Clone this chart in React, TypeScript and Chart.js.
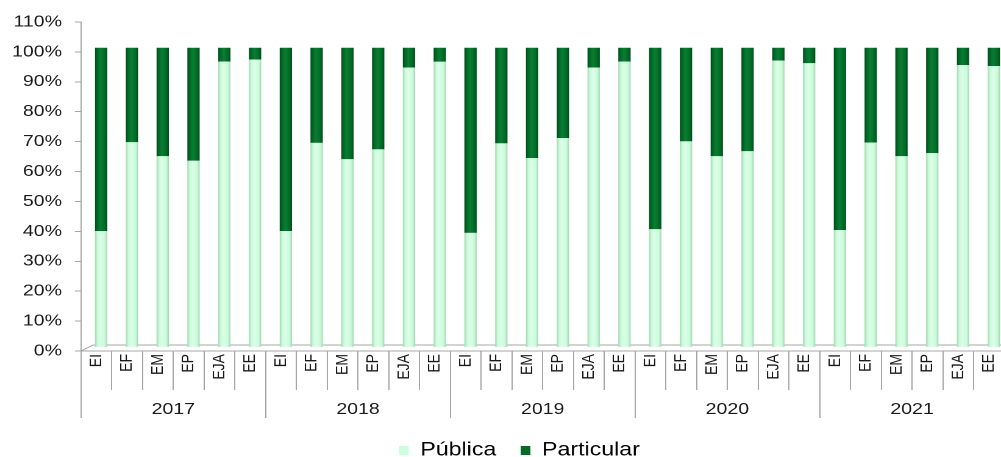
import React, { useEffect, useRef } from "react";
import { Chart, registerables } from "chart.js";

Chart.register(...registerables);

// ---- data ----
const years = ["2017", "2018", "2019", "2020", "2021"];
const levels = ["EI", "EF", "EM", "EP", "EJA", "EE"];
const publica = [
  38.7, 68.4, 63.7, 62.2, 95.4, 96.0,
  38.7, 68.2, 62.7, 66.0, 93.4, 95.3,
  38.1, 68.0, 63.1, 69.8, 93.4, 95.4,
  39.3, 68.7, 63.7, 65.4, 95.7, 94.8,
  39.0, 68.3, 63.7, 64.8, 94.2, 93.9,
];
const particular = [
  61.3, 31.6, 36.3, 37.8, 4.6, 4.0,
  61.3, 31.8, 37.3, 34.0, 6.6, 4.7,
  61.9, 32.0, 36.9, 30.2, 6.6, 4.6,
  60.7, 31.3, 36.3, 34.6, 4.3, 5.2,
  61.0, 31.7, 36.3, 35.2, 5.8, 6.1,
];
const yTicks = [0, 10, 20, 30, 40, 50, 60, 70, 80, 90, 100, 110];
const seriesNames = ["Pública", "Particular"];

const categories = years.flatMap(() => levels);

// ---- layout (inner canvas is stretched horizontally like the reference) ----
const OUT_W = 1001;
const SX = 1001 / 821;
const IN_W = 852;
const IN_H = 457;
const BAR_PCT = 0.4;
const DEPTH_X = 0.156; // 3-D depth shift of the bars, in categories
const DEPTH_Y = 1.4; // 3-D depth shift of the bars, in %
const FONT = "'Liberation Sans', Arial, sans-serif";
const AXIS_GRAY = "#a6a6a6";
const TEXT = "#1a1a1a";

const PUB_SOLID = "#ccffdd";
const PART_SOLID = "#006b24";

function makeFill(edge: string, mid: string, hi: string) {
  return (c: any) => {
    const chart = c.chart;
    const xs = chart.scales && chart.scales.xb;
    if (c.type !== "data" || !xs || !chart.chartArea) return mid;
    const x = xs.getPixelForValue(c.dataIndex);
    const w = (xs.width / categories.length) * BAR_PCT;
    if (!isFinite(x) || !isFinite(w) || w <= 0) return mid;
    const g = chart.ctx.createLinearGradient(x - w / 2, 0, x + w / 2, 0);
    g.addColorStop(0, edge);
    g.addColorStop(0.2, mid);
    g.addColorStop(0.45, hi);
    g.addColorStop(0.8, mid);
    g.addColorStop(1, edge);
    return g;
  };
}

const floorPlugin = {
  id: "floor3d",
  beforeDatasetsDraw(chart: any) {
    const { ctx, chartArea } = chart;
    const y0 = chart.scales.y.getPixelForValue(0);
    ctx.save();
    ctx.strokeStyle = AXIS_GRAY;
    ctx.lineWidth = 1;
    ctx.beginPath();
    ctx.moveTo(chartArea.left, y0);
    ctx.lineTo(chartArea.left + 10, y0 - 6);
    ctx.lineTo(chartArea.right, y0 - 6);
    ctx.stroke();
    ctx.restore();
  },
};

export default function App() {
  const ref = useRef<HTMLCanvasElement | null>(null);

  useEffect(() => {
    if (!ref.current) return;
    Chart.defaults.font.family = FONT;
    const chart = new Chart(ref.current, {
      type: "bar",
      data: {
        labels: categories,
        datasets: [
          {
            label: seriesNames[0],
            data: publica.map((v, i) => ({ x: i, y: v })),
            xAxisID: "xb",
            yAxisID: "yb",
            backgroundColor: makeFill("#a3d6b3", "#c9fbd9", "#dcffe9"),
            borderWidth: 0,
            barPercentage: BAR_PCT,
            categoryPercentage: 1,
            stack: "s",
          },
          {
            label: seriesNames[1],
            data: particular.map((v, i) => ({ x: i, y: v })),
            xAxisID: "xb",
            yAxisID: "yb",
            backgroundColor: makeFill("#004d1a", "#006b26", "#0b7d34"),
            borderWidth: 0,
            barPercentage: BAR_PCT,
            categoryPercentage: 1,
            stack: "s",
          },
        ],
      },
      options: {
        animation: false,
        responsive: true,
        maintainAspectRatio: false,
        devicePixelRatio: 2,
        layout: { padding: { top: 22, left: 0, right: 0, bottom: -13 } },
        plugins: {
          tooltip: { enabled: false },
          legend: {
            position: "bottom",
            labels: {
              font: { family: FONT, size: 19 },
              color: TEXT,
              boxWidth: 8,
              boxHeight: 9,
              padding: 20,
              generateLabels: () => [
                { text: seriesNames[0], fillStyle: PUB_SOLID, strokeStyle: PUB_SOLID, lineWidth: 0, hidden: false, datasetIndex: 0 },
                { text: seriesNames[1], fillStyle: PART_SOLID, strokeStyle: PART_SOLID, lineWidth: 0, hidden: false, datasetIndex: 1 },
              ] as any,
            },
          },
        },
        scales: {
          // hidden scales that carry the bars (shifted for the 3-D depth)
          xb: {
            type: "linear",
            display: false,
            stacked: true,
            offset: false,
            min: -0.5 - DEPTH_X,
            max: categories.length - 0.5 - DEPTH_X,
          },
          yb: {
            type: "linear",
            display: false,
            stacked: true,
            min: yTicks[0] - DEPTH_Y,
            max: yTicks[yTicks.length - 1] - DEPTH_Y,
          },
          x: {
            type: "category",
            position: "bottom",
            offset: true,
            weight: 0,
            grid: {
              display: true,
              drawOnChartArea: false,
              drawTicks: true,
              tickLength: 39,
              color: AXIS_GRAY,
              offset: true,
            },
            border: { display: true, color: AXIS_GRAY, width: 1 },
            ticks: {
              autoSkip: false,
              minRotation: 90,
              maxRotation: 90,
              padding: -36,
              font: { family: FONT, size: 14 },
              color: TEXT,
            },
            afterFit: (s: any) => {
              s.height = 39;
            },
          },
          year: {
            type: "category",
            position: "bottom",
            labels: years,
            offset: true,
            weight: 1,
            grid: {
              display: true,
              drawOnChartArea: false,
              drawTicks: true,
              tickLength: 28,
              color: AXIS_GRAY,
              offset: true,
            },
            border: { display: false },
            ticks: {
              autoSkip: false,
              maxRotation: 0,
              padding: -18,
              font: { family: FONT, size: 16 },
              color: TEXT,
            },
            afterFit: (s: any) => {
              s.height = 31;
            },
          },
          y: {
            type: "linear",
            position: "left",
            min: yTicks[0],
            max: yTicks[yTicks.length - 1],
            afterBuildTicks: (s: any) => {
              s.ticks = yTicks.map((v) => ({ value: v }));
            },
            ticks: {
              callback: (v: any) => `${v}%`,
              padding: 10.6,
              font: { family: FONT, size: 16 },
              color: TEXT,
            },
            grid: {
              drawOnChartArea: false,
              drawTicks: true,
              tickLength: 5,
              color: AXIS_GRAY,
            },
            border: { display: true, color: AXIS_GRAY, width: 1 },
            afterFit: (s: any) => {
              s.width = 66.4;
            },
          },
          // empty right-side spacer: the plot runs past the picture's right edge
          spacer: {
            type: "linear",
            position: "right",
            display: true,
            ticks: { display: false },
            grid: { display: false, drawTicks: false },
            border: { display: false },
            afterFit: (s: any) => {
              s.width = 28.2;
            },
          },
        },
      } as any,
      plugins: [floorPlugin],
    });
    return () => chart.destroy();
  }, []);

  return (
    <div
      style={{
        position: "absolute",
        left: 0,
        top: 0,
        width: OUT_W,
        height: IN_H,
        overflow: "hidden",
        background: "#ffffff",
      }}
    >
      <div
        style={{
          position: "absolute",
          left: 0,
          top: 0,
          width: IN_W,
          height: IN_H,
          transform: `scaleX(${SX})`,
          transformOrigin: "0 0",
        }}
      >
        <canvas ref={ref} />
      </div>
    </div>
  );
}
